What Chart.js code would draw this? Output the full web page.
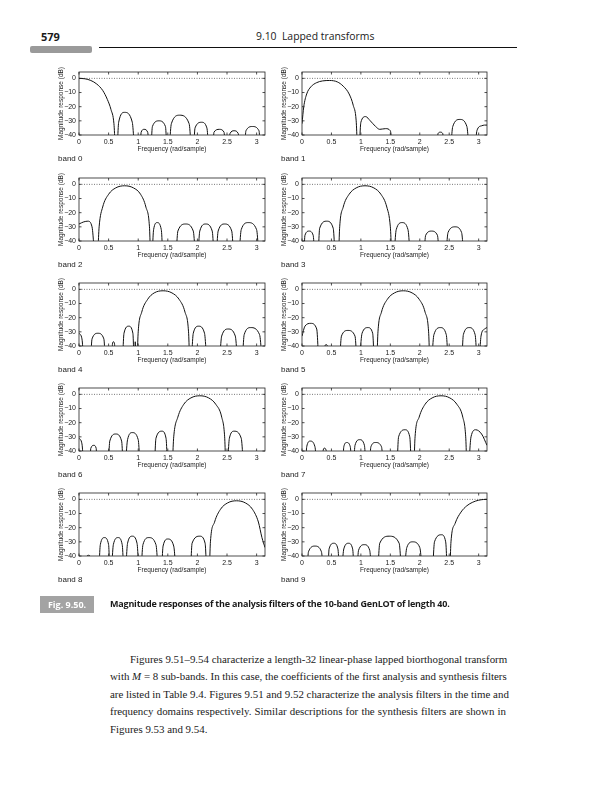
<!DOCTYPE html>
<html>
<head>
<meta charset="utf-8">
<script src="https://cdn.jsdelivr.net/npm/chart.js@4.4.0/dist/chart.umd.min.js"></script>
<style>
  body { margin: 0; width: 608px; height: 800px; background: #fff; position: relative; overflow: hidden; color: #1a1a1a; }
  .abs { position: absolute; white-space: nowrap; }
  canvas.plot { position: absolute; }
  .band { position: absolute; font: 8px "Liberation Sans", Arial, sans-serif; color: #222; }
  .body { position: absolute; left: 110px; width: 396px; font: 10.9px "Liberation Serif", serif; line-height: 17.4px; color: #1a1a1a; }
  .ln { text-align: justify; text-align-last: justify; white-space: nowrap; }
</style>
</head>
<body>
<div class="abs" style="left:41px;top:29px;font:bold 11px 'Open Sans';">579</div>
<div class="abs" style="left:256px;top:29px;font:10.4px 'Open Sans';">9.10&nbsp; Lapped transforms</div>
<div class="abs" style="left:30px;top:46px;width:62px;height:7px;background:#9a9a9a;border-radius:2px;"></div>
<div class="abs" style="left:99px;top:47px;width:418px;height:1px;background:#111;"></div>

<div id="charts"></div>

<div class="abs" style="left:40px;top:596px;width:54px;height:17px;background:#a3a3a3;color:#fff;font:bold 9px 'Open Sans';line-height:17px;text-align:center;">Fig. 9.50.</div>
<div class="abs" style="left:110px;top:597px;font:bold 9px 'Open Sans';letter-spacing:-0.2px;">Magnitude responses of the analysis filters of the 10-band GenLOT of length 40.</div>

<div class="body" style="top:651px;">
  <div class="ln" style="padding-left:20px;">Figures 9.51–9.54 characterize a length-32 linear-phase lapped biorthogonal transform</div>
  <div class="ln">with <i>M</i> = 8 sub-bands. In this case, the coefficients of the first analysis and synthesis filters</div>
  <div class="ln">are listed in Table 9.4. Figures 9.51 and 9.52 characterize the analysis filters in the time and</div>
  <div class="ln">frequency domains respectively. Similar descriptions for the synthesis filters are shown in</div>
  <div class="ln" style="text-align-last:left;">Figures 9.53 and 9.54.</div>
</div>

<script>
const freqTicks = [0, 0.5, 1, 1.5, 2, 2.5, 3];
const dbTicks = [0, -10, -20, -30, -40];
const zeroLine = [[0, 0], [3.1416, 0]];

// [frequency (rad/sample), magnitude (dB)]; -60 = null below the axis
const band0 = [[0,0],[0.1,-0.3],[0.2,-1.5],[0.3,-4],[0.4,-8.5],[0.48,-15],[0.54,-22],[0.59,-32],[0.63,-60],
  [0.67,-31],[0.77,-24],[0.9,-31],[0.96,-60],
  [1.02,-60],[1.05,-38],[1.1,-36],[1.16,-38],[1.2,-60],
  [1.24,-34],[1.35,-30],[1.46,-34],[1.5,-60],
  [1.56,-32],[1.7,-26],[1.86,-32],[1.92,-60],
  [1.96,-35],[2.07,-31],[2.16,-35],[2.21,-60],
  [2.25,-60],[2.28,-38],[2.37,-36],[2.45,-38],[2.48,-60],
  [2.52,-60],[2.55,-39],[2.62,-37],[2.69,-39],[2.72,-60],
  [2.78,-60],[2.82,-37],[2.93,-34],[3.04,-37],[3.08,-60],[3.1416,-60]];
const band1 = [[0,-32],[0.03,-20],[0.08,-11],[0.15,-6],[0.25,-3],[0.35,-1.8],[0.47,-1.5],[0.6,-2.5],[0.7,-5.5],[0.8,-11],[0.87,-19],[0.92,-30],[0.955,-60],
  [1.0,-31],[1.08,-27],[1.16,-30],[1.25,-34],[1.32,-36],[1.42,-35.5],[1.5,-37],[1.56,-60],
  [2.28,-60],[2.31,-39],[2.35,-38],[2.39,-39],[2.42,-60],
  [2.5,-60],[2.56,-34],[2.68,-29],[2.8,-34],[2.86,-60],
  [2.92,-60],[2.97,-37],[3.05,-33.5],[3.1,-33],[3.1416,-33]];
const band2 = [[0,-28],[0.08,-26.5],[0.15,-26],[0.22,-30],[0.29,-60],
  [0.3,-60],[0.34,-30],[0.4,-16],[0.5,-7],[0.62,-2.5],[0.77,-1],[0.92,-2.5],[1.04,-7],[1.13,-16],[1.19,-30],[1.22,-60],
  [1.26,-32],[1.32,-27],[1.39,-32],[1.43,-60],
  [1.62,-60],[1.67,-33],[1.8,-28],[1.93,-33],[1.99,-60],
  [2.04,-33],[2.14,-28],[2.25,-33],[2.3,-60],
  [2.35,-33],[2.46,-28],[2.58,-33],[2.63,-60],
  [2.68,-60],[2.74,-32],[2.86,-27],[3.0,-32],[3.06,-60],[3.1416,-60]];
const band3 = [[0,-60],[0.02,-60],[0.05,-36],[0.12,-33],[0.19,-36],[0.23,-60],
  [0.26,-60],[0.3,-31],[0.42,-26],[0.53,-31],[0.58,-60],
  [0.61,-60],[0.64,-30],[0.7,-16],[0.8,-7],[0.92,-2.5],[1.07,-1],[1.22,-2.5],[1.34,-7],[1.44,-16],[1.5,-30],[1.54,-60],
  [1.6,-32],[1.7,-27],[1.8,-32],[1.86,-60],
  [2.05,-60],[2.1,-36],[2.2,-33],[2.3,-36],[2.35,-60],
  [2.42,-60],[2.48,-34],[2.6,-30],[2.71,-34],[2.77,-60],[3.1416,-60]];
const band4 = [[0,-31],[0.05,-35],[0.1,-60],
  [0.18,-60],[0.22,-35],[0.32,-31],[0.42,-35],[0.46,-60],
  [0.55,-60],[0.565,-38.5],[0.58,-37],[0.6,-38.5],[0.62,-60],
  [0.72,-60],[0.76,-31],[0.84,-26],[0.91,-31],[0.94,-60],[0.95,-37],[0.965,-60],
  [0.97,-60],[1.0,-30],[1.06,-16],[1.16,-7],[1.27,-2.5],[1.42,-1],[1.57,-2.5],[1.69,-7],[1.79,-16],[1.85,-30],[1.88,-60],
  [1.93,-31],[2.02,-26],[2.12,-31],[2.18,-60],
  [2.35,-60],[2.41,-33],[2.52,-28],[2.64,-33],[2.7,-60],
  [2.74,-60],[2.79,-32],[2.9,-27],[3.05,-32],[3.12,-60],[3.1416,-60]];
const band5 = [[0,-33],[0.05,-26],[0.15,-24],[0.25,-28],[0.3,-60],
  [0.38,-60],[0.39,-40],[0.41,-39],[0.43,-40],[0.44,-60],
  [0.62,-60],[0.67,-33],[0.78,-29],[0.9,-33],[0.95,-60],
  [1.02,-31],[1.12,-27],[1.2,-31],[1.24,-60],
  [1.26,-60],[1.29,-30],[1.35,-16],[1.45,-7],[1.57,-2.5],[1.72,-1],[1.87,-2.5],[1.99,-7],[2.09,-16],[2.15,-30],[2.18,-60],
  [2.24,-32],[2.35,-27],[2.45,-32],[2.5,-60],
  [2.7,-60],[2.74,-32],[2.84,-27],[2.94,-32],[2.99,-60],
  [3.04,-33],[3.1,-28],[3.1416,-27]];
const band6 = [[0,-31],[0.05,-35],[0.1,-60],
  [0.17,-60],[0.2,-38],[0.25,-36],[0.29,-38],[0.31,-60],
  [0.48,-60],[0.52,-33],[0.62,-28],[0.72,-33],[0.76,-60],
  [0.82,-32],[0.9,-27],[1.0,-32],[1.05,-60],
  [1.26,-60],[1.3,-31],[1.4,-26],[1.47,-31],[1.51,-60],
  [1.56,-60],[1.6,-30],[1.67,-16],[1.77,-7],[1.89,-2.5],[2.04,-1],[2.19,-2.5],[2.31,-7],[2.41,-16],[2.46,-30],[2.49,-60],
  [2.54,-31],[2.62,-26],[2.74,-31],[2.8,-60],[3.1416,-60]];
const band7 = [[0,-60],[0.05,-60],[0.08,-37],[0.14,-33],[0.22,-37],[0.27,-60],
  [0.34,-60],[0.36,-39.5],[0.38,-38],[0.41,-39.5],[0.43,-60],
  [0.68,-60],[0.71,-37],[0.76,-34],[0.82,-37],[0.86,-60],
  [0.9,-36],[0.98,-32],[1.06,-36],[1.1,-60],
  [1.13,-60],[1.17,-37],[1.25,-34],[1.35,-37],[1.4,-60],
  [1.6,-60],[1.64,-30],[1.75,-25],[1.83,-30],[1.87,-60],
  [1.89,-60],[1.92,-30],[1.99,-16],[2.09,-7],[2.21,-2.5],[2.36,-1],[2.51,-2.5],[2.63,-7],[2.73,-16],[2.78,-30],[2.81,-60],
  [2.87,-30],[2.95,-25],[3.05,-28],[3.1416,-36]];
const band8 = [[0,-60],[0.1,-60],[0.13,-40.3],[0.16,-39.5],[0.19,-40.3],[0.22,-60],
  [0.32,-60],[0.36,-32],[0.43,-27],[0.5,-32],[0.53,-60],
  [0.58,-32],[0.66,-27],[0.73,-32],[0.77,-60],
  [0.82,-31],[0.9,-26],[0.98,-31],[1.03,-60],
  [1.08,-32],[1.18,-27],[1.3,-32],[1.36,-60],
  [1.38,-60],[1.42,-33],[1.5,-28],[1.6,-33],[1.66,-60],
  [1.87,-60],[1.91,-31],[2.04,-26],[2.13,-31],[2.17,-60],
  [2.19,-60],[2.22,-30],[2.29,-16],[2.39,-7],[2.51,-2.5],[2.66,-1],[2.81,-2.5],[2.93,-7],[3.03,-16],[3.09,-27],[3.1416,-34]];
const band9 = [[0,-60],[0.07,-60],[0.11,-37],[0.22,-33],[0.33,-37],[0.38,-60],
  [0.43,-60],[0.46,-35],[0.54,-31],[0.61,-35],[0.65,-60],
  [0.71,-35],[0.79,-31],[0.86,-35],[0.9,-60],
  [0.92,-60],[0.96,-36],[1.06,-32],[1.15,-36],[1.2,-60],
  [1.27,-60],[1.32,-31],[1.48,-26],[1.65,-31],[1.71,-60],
  [1.78,-34],[1.88,-30],[2.0,-34],[2.07,-60],
  [2.2,-60],[2.25,-30],[2.37,-25],[2.44,-30],[2.48,-60],
  [2.5,-60],[2.53,-30],[2.6,-17],[2.7,-9],[2.8,-4.5],[2.9,-2],[3.0,-0.6],[3.08,-0.1],[3.1416,0]];

const bandNames = ["band 0", "band 1", "band 2", "band 3", "band 4", "band 5", "band 6", "band 7", "band 8", "band 9"];
const bands = [band0, band1, band2, band3, band4, band5, band6, band7, band8, band9];

// plot-area tops per row, canvas lefts per column
const rowTops = [72, 178, 283, 388, 493];
const colLefts = [54, 277];
const colWidths = [216, 215];
const PAD_TOP = 16;

const axisFont = { family: "'Liberation Sans', Arial, sans-serif", size: 6.5 };
const tickFont = { family: "'Liberation Sans', Arial, sans-serif", size: 7 };

// frame with inward ticks on all four sides, like the MATLAB box
const boxTicks = {
  id: "boxTicks",
  afterDatasetsDraw(chart) {
    const { ctx, chartArea: a, scales: { x, y } } = chart;
    ctx.save();
    ctx.strokeStyle = "#222";
    ctx.lineWidth = 0.8;
    ctx.strokeRect(a.left, a.top, a.width, a.height);
    ctx.beginPath();
    freqTicks.forEach(v => {
      const px = x.getPixelForValue(v);
      ctx.moveTo(px, a.bottom); ctx.lineTo(px, a.bottom - 2.5);
      ctx.moveTo(px, a.top); ctx.lineTo(px, a.top + 2.5);
    });
    dbTicks.forEach(v => {
      const py = y.getPixelForValue(v);
      ctx.moveTo(a.left, py); ctx.lineTo(a.left + 2.5, py);
      ctx.moveTo(a.right, py); ctx.lineTo(a.right - 2.5, py);
    });
    ctx.stroke();
    ctx.restore();
  }
};

const holder = document.getElementById("charts");

bands.forEach((band, i) => {
  const col = i % 2;
  const row = Math.floor(i / 2);
  const top = rowTops[row];

  const canvas = document.createElement("canvas");
  canvas.className = "plot";
  canvas.width = colWidths[col];
  canvas.height = 101;
  canvas.style.left = colLefts[col] + "px";
  canvas.style.top = (top - PAD_TOP) + "px";
  holder.appendChild(canvas);

  const label = document.createElement("div");
  label.className = "band";
  label.textContent = bandNames[i];
  label.style.left = (col === 0 ? 58 : 281) + "px";
  label.style.top = (top + 82) + "px";
  holder.appendChild(label);

  new Chart(canvas, {
    type: "line",
    data: {
      datasets: [
        {
          data: band.map(p => ({ x: p[0], y: p[1] })),
          borderColor: "#111",
          borderWidth: 1,
          pointRadius: 0,
          cubicInterpolationMode: "monotone",
        },
        {
          data: zeroLine.map(p => ({ x: p[0], y: p[1] })),
          borderColor: "#555",
          borderWidth: 0.8,
          borderDash: [1, 1.5],
          pointRadius: 0,
        },
      ],
    },
    options: {
      responsive: false,
      animation: false,
      events: [],
      layout: { padding: { top: PAD_TOP, right: 5, bottom: 4, left: 0 } },
      plugins: { legend: { display: false }, tooltip: { enabled: false } },
      scales: {
        x: {
          type: "linear",
          min: 0,
          max: Math.PI,
          afterBuildTicks: s => { s.ticks = freqTicks.map(v => ({ value: v })); },
          afterFit: s => { s.height = 18; },
          ticks: { font: tickFont, color: "#222", padding: 3, maxRotation: 0, autoSkip: false, callback: v => String(v) },
          grid: { display: false, drawTicks: false },
          border: { display: false },
          title: { display: true, text: "Frequency (rad/sample)", font: axisFont, color: "#222", padding: 0 },
        },
        y: {
          min: -40,
          max: 4.5,
          afterBuildTicks: s => { s.ticks = dbTicks.map(v => ({ value: v })); },
          afterFit: s => { s.width = 25; },
          ticks: { font: tickFont, color: "#222", padding: 3, callback: v => (v === 0 ? "0" : "\u2212" + Math.abs(v)) },
          grid: { display: false, drawTicks: false },
          border: { display: false },
          title: { display: true, text: "Magnitude response (dB)", font: axisFont, color: "#222", padding: { top: 3, bottom: 0 } },
        },
      },
    },
    plugins: [boxTicks],
  });
});
</script>
</body>
</html>
